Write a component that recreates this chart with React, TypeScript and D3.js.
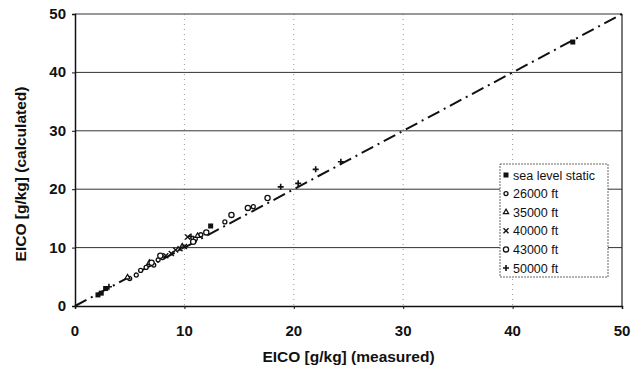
import { useEffect, useRef } from 'react'
import * as d3 from 'd3'

type Pt = [number, number]

// values: [measured, calculated]
const seaLevel: Pt[] = [[2.1, 1.9], [2.4, 2.2], [2.8, 3.0], [12.4, 13.7], [45.5, 45.2]]
const ft26000: Pt[] = [[5.0, 4.7], [5.6, 5.3], [6.0, 6.1], [6.5, 6.6], [7.2, 7.0], [7.6, 7.9], [8.0, 8.3], [11.0, 11.5], [11.5, 12.2], [13.7, 14.4], [16.3, 17.0]]
const ft35000: Pt[] = [[4.8, 4.9], [6.8, 7.4], [9.8, 10.2], [11.2, 12.0]]
const ft40000: Pt[] = [[8.3, 8.6], [8.8, 9.0], [9.2, 9.6], [9.6, 9.8], [10.0, 10.2], [10.3, 11.8]]
const ft43000: Pt[] = [[7.0, 7.4], [7.8, 8.6], [10.8, 11.0], [12.0, 12.6], [14.3, 15.6], [15.8, 16.8], [17.6, 18.5]]
const ft50000: Pt[] = [[3.1, 3.3], [10.6, 11.9], [18.8, 20.4], [20.4, 21.0], [22.0, 23.4], [24.3, 24.7]]

const ticks = [0, 10, 20, 30, 40, 50]
const legendLabels = ['sea level static', '26000 ft', '35000 ft', '40000 ft', '43000 ft', '50000 ft']

const series = [
  { name: legendLabels[0], data: seaLevel, shape: 'square' },
  { name: legendLabels[1], data: ft26000, shape: 'smallCircle' },
  { name: legendLabels[2], data: ft35000, shape: 'triangle' },
  { name: legendLabels[3], data: ft40000, shape: 'cross' },
  { name: legendLabels[4], data: ft43000, shape: 'circle' },
  { name: legendLabels[5], data: ft50000, shape: 'plus' },
]

const FONT = '"Liberation Sans", Arial, sans-serif'

function drawMarker(g: any, shape: string, x: number, y: number) {
  if (shape === 'square') {
    g.append('rect').attr('x', x - 2.5).attr('y', y - 2.5).attr('width', 5).attr('height', 5).attr('fill', '#111')
  } else if (shape === 'smallCircle') {
    g.append('circle').attr('cx', x).attr('cy', y).attr('r', 2).attr('fill', '#fff').attr('stroke', '#111').attr('stroke-width', 1.3)
  } else if (shape === 'circle') {
    g.append('circle').attr('cx', x).attr('cy', y).attr('r', 2.6).attr('fill', '#fff').attr('stroke', '#111').attr('stroke-width', 1.3)
  } else if (shape === 'triangle') {
    g.append('path').attr('d', d3.symbol(d3.symbolTriangle, 12)()).attr('transform', `translate(${x},${y})`)
      .attr('fill', '#fff').attr('stroke', '#111').attr('stroke-width', 1.2)
  } else if (shape === 'cross') {
    g.append('path').attr('d', `M${x - 2.5},${y - 2.5}L${x + 2.5},${y + 2.5}M${x - 2.5},${y + 2.5}L${x + 2.5},${y - 2.5}`)
      .attr('stroke', '#111').attr('stroke-width', 1.4)
  } else if (shape === 'plus') {
    g.append('path').attr('d', `M${x - 3},${y}L${x + 3},${y}M${x},${y - 3}L${x},${y + 3}`)
      .attr('stroke', '#111').attr('stroke-width', 1.6)
  }
}

export default function App() {
  const svgRef = useRef<SVGSVGElement>(null)

  useEffect(() => {
    const W = 642
    const H = 373
    const margin = { top: 14, right: 20, bottom: 67, left: 75 }
    const innerW = W - margin.left - margin.right
    const innerH = H - margin.top - margin.bottom

    const x = d3.scaleLinear().domain([0, 50]).range([0, innerW])
    const y = d3.scaleLinear().domain([0, 50]).range([innerH, 0])

    const svg = d3.select(svgRef.current)
    svg.selectAll('*').remove()
    svg.attr('width', W).attr('height', H)
    svg.append('rect').attr('width', W).attr('height', H).attr('fill', '#fff')

    const g = svg.append('g').attr('transform', `translate(${margin.left},${margin.top})`)

    // dotted vertical grid
    g.append('g')
      .selectAll('line')
      .data(ticks.filter((t) => t > 0 && t < 50))
      .join('line')
      .attr('x1', (d) => x(d)).attr('x2', (d) => x(d))
      .attr('y1', 0).attr('y2', innerH)
      .attr('stroke', '#999').attr('stroke-width', 1).attr('stroke-dasharray', '1,4')

    // horizontal grid
    g.append('g')
      .selectAll('line')
      .data(ticks.filter((t) => t > 0))
      .join('line')
      .attr('x1', 0).attr('x2', innerW)
      .attr('y1', (d) => y(d)).attr('y2', (d) => y(d))
      .attr('stroke', '#333').attr('stroke-width', 1)

    // right frame
    g.append('line')
      .attr('x1', innerW).attr('x2', innerW).attr('y1', 0).attr('y2', innerH)
      .attr('stroke', '#222').attr('stroke-width', 1.2)

    // axes
    g.append('g')
      .attr('transform', `translate(0,${innerH})`)
      .call(d3.axisBottom(x).tickValues(ticks).tickSize(3).tickFormat(() => ''))
      .call((ax) => ax.select('.domain').attr('stroke', '#111').attr('stroke-width', 1.5))
      .call((ax) => ax.selectAll('.tick line').attr('stroke', '#111'))

    g.append('g')
      .call(d3.axisLeft(y).tickValues(ticks).tickSize(3).tickFormat(() => ''))
      .call((ax) => ax.select('.domain').attr('stroke', '#111').attr('stroke-width', 1.5))
      .call((ax) => ax.selectAll('.tick line').attr('stroke', '#111'))

    g.append('g')
      .selectAll('text')
      .data(ticks)
      .join('text')
      .attr('x', (d) => x(d)).attr('y', innerH + 30)
      .attr('text-anchor', 'middle')
      .attr('font-family', FONT).attr('font-weight', 'bold').attr('font-size', 15).attr('fill', '#111')
      .text((d) => d)

    g.append('g')
      .selectAll('text')
      .data(ticks)
      .join('text')
      .attr('x', -9).attr('y', (d) => y(d) + 5)
      .attr('text-anchor', 'end')
      .attr('font-family', FONT).attr('font-weight', 'bold').attr('font-size', 15).attr('fill', '#111')
      .text((d) => d)

    g.append('text')
      .attr('x', innerW / 2).attr('y', innerH + 56)
      .attr('text-anchor', 'middle')
      .attr('font-family', FONT).attr('font-weight', 'bold').attr('font-size', 15.5).attr('fill', '#111')
      .text('EICO [g/kg] (measured)')

    g.append('text')
      .attr('transform', `translate(${-49},${innerH / 2 + 14}) rotate(-90)`)
      .attr('text-anchor', 'middle')
      .attr('font-family', FONT).attr('font-weight', 'bold').attr('font-size', 15.5).attr('fill', '#111')
      .text('EICO [g/kg] (calculated)')

    // 1:1 line
    g.append('line')
      .attr('x1', x(0)).attr('y1', y(0)).attr('x2', x(50)).attr('y2', y(50))
      .attr('stroke', '#111').attr('stroke-width', 2)
      .attr('stroke-dasharray', '13,5,2,5')

    // markers
    const mg = g.append('g')
    series.forEach((s) => {
      s.data.forEach(([mx, my]) => drawMarker(mg, s.shape, x(mx), y(my)))
    })

    // legend
    const lx = 500
    const ly = 164
    const lg = svg.append('g')
    lg.append('rect')
      .attr('x', lx).attr('y', ly).attr('width', 108).attr('height', 113)
      .attr('fill', '#fff').attr('stroke', '#666').attr('stroke-width', 1).attr('stroke-dasharray', '2,1')
    series.forEach((s, i) => {
      const cy = ly + 11 + i * 18.6
      drawMarker(lg, s.shape, lx + 6, cy)
      lg.append('text')
        .attr('x', lx + 13).attr('y', cy + 4.5)
        .attr('font-family', FONT).attr('font-size', 12.5).attr('fill', '#111')
        .text(s.name)
    })
  }, [])

  return (
    <div style={{ position: 'absolute', left: 0, top: 0 }}>
      <svg ref={svgRef} style={{ display: 'block' }} />
    </div>
  )
}
